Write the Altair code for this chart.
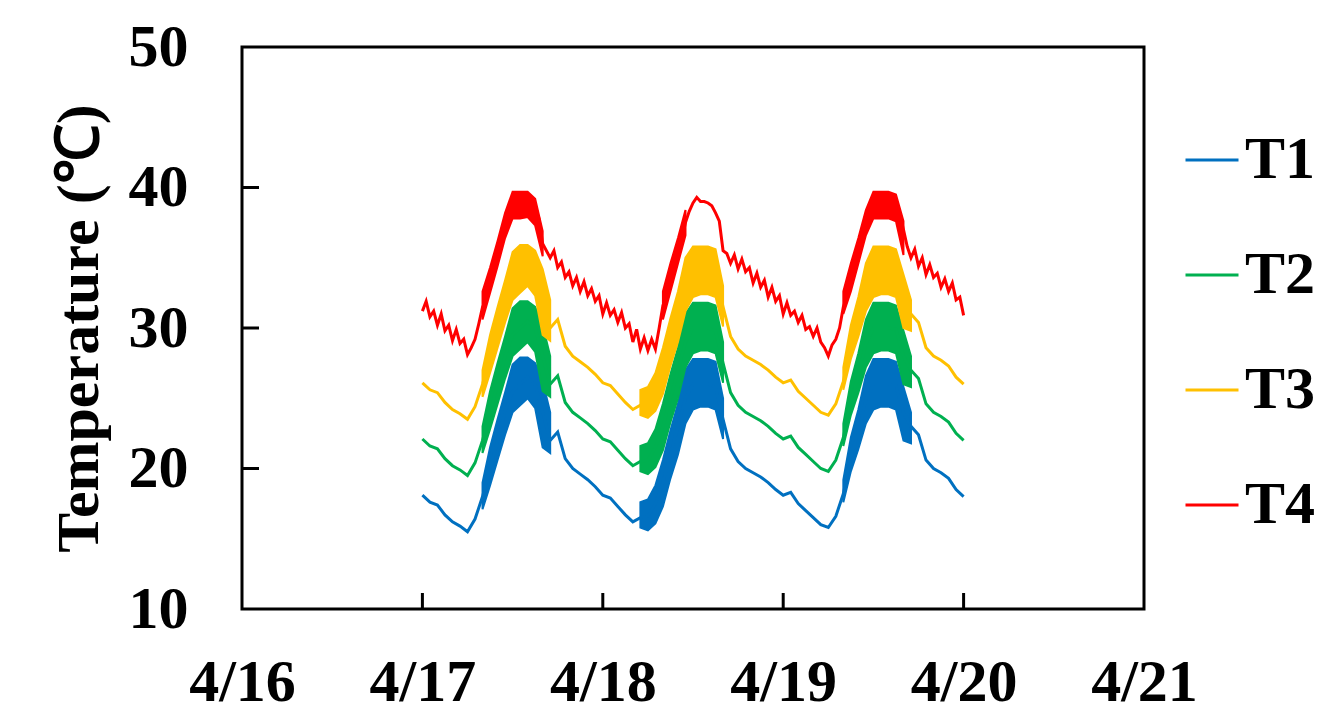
import altair as alt
import pandas as pd

SERIES = ["T1", "T2", "T3", "T4"]
COLORS = ["#0070C0", "#00B050", "#FFC000", "#FF0000"]
DAY_LABELS = ["4/16", "4/17", "4/18", "4/19", "4/20", "4/21"]
DAY_TICKS = [0, 24, 48, 72, 96, 120]          # hours since 4/16 00:00
INNER_X_TICKS = [24, 48, 72, 96]
Y_TICKS = [10, 20, 30, 40, 50]
INNER_Y_TICKS = [20, 30, 40]
START = 24                                    # data start: 4/17 00:00

# hourly readings (4/17 00:00 .. 4/20 00:00)
T1_LINE = [18.1, 17.6, 17.4, 16.7, 16.2, 15.9, 15.5, 16.4, 18.0, 20.0, 22.0, 24.0, 25.5, 26.0, 26.5, 26.0, 24.0, 22.0, 22.6, 20.7, 20.0, 19.6, 19.2, 18.7,
           18.1, 17.9, 17.3, 16.7, 16.2, 16.5, 16.6, 17.5, 19.0, 21.0, 23.0, 25.0, 26.0, 26.0, 26.0, 25.8, 23.5, 21.4, 20.5, 20.0, 19.7, 19.4, 19.0, 18.5,
           18.1, 18.3, 17.5, 17.0, 16.5, 16.0, 15.8, 16.6, 18.2, 20.8, 22.6, 24.9, 26.0, 26.0, 26.0, 25.9, 24.0, 23.0, 22.4, 20.6, 20.0, 19.7, 19.3, 18.5, 18.0]
T2_LINE = [22.1, 21.6, 21.4, 20.7, 20.2, 19.9, 19.5, 20.4, 22.0, 24.0, 26.0, 28.0, 29.5, 30.0, 30.5, 30.0, 28.0, 26.0, 26.6, 24.7, 24.0, 23.6, 23.2, 22.7,
           22.1, 21.9, 21.3, 20.7, 20.2, 20.5, 20.6, 21.5, 23.0, 25.0, 27.0, 29.0, 30.0, 30.0, 30.0, 29.8, 27.5, 25.4, 24.5, 24.0, 23.7, 23.4, 23.0, 22.5,
           22.1, 22.3, 21.5, 21.0, 20.5, 20.0, 19.8, 20.6, 22.2, 24.8, 26.6, 28.9, 30.0, 30.0, 30.0, 29.9, 28.0, 27.0, 26.4, 24.6, 24.0, 23.7, 23.3, 22.5, 22.0]
T3_LINE = [26.1, 25.6, 25.4, 24.7, 24.2, 23.9, 23.5, 24.4, 26.0, 28.0, 30.0, 32.0, 33.5, 34.0, 34.5, 34.0, 32.0, 30.0, 30.6, 28.7, 28.0, 27.6, 27.2, 26.7,
           26.1, 25.9, 25.3, 24.7, 24.2, 24.5, 24.6, 25.5, 27.0, 29.0, 31.0, 33.0, 34.0, 34.0, 34.0, 33.8, 31.5, 29.4, 28.5, 28.0, 27.7, 27.4, 27.0, 26.5,
           26.1, 26.3, 25.5, 25.0, 24.5, 24.0, 23.8, 24.6, 26.2, 28.8, 30.6, 32.9, 34.0, 34.0, 34.0, 33.9, 32.0, 31.0, 30.4, 28.6, 28.0, 27.7, 27.3, 26.5, 26.0]
# half-hourly readings for T4 (zig-zag)
T4_LINE = [31.2, 31.9, 30.8, 31.2, 30.2, 31.0, 29.8, 30.2, 29.1, 29.9, 28.9, 29.2, 28.1, 28.6, 29.2, 30.3,
           31.5, 32.0, 33.5, 34.0, 35.5, 36.0, 37.5, 38.0, 38.8, 38.8, 38.8, 38.8, 38.8, 38.8, 38.5, 37.8,
           36.0, 35.5, 35.0, 35.5, 34.3, 34.7, 33.6, 34.0, 33.0, 33.6, 32.6, 33.3, 32.3, 32.8, 31.9, 32.3,
           31.0, 31.8, 30.9, 31.3, 30.4, 31.1, 30.0, 30.3, 29.0, 29.9, 28.5, 29.3, 28.4, 29.2, 28.5, 30.0,
           31.6, 32.2, 33.5, 34.3, 35.5, 36.3, 37.5, 38.3, 38.9, 39.3, 39.0, 39.0, 38.9, 38.7, 38.2, 37.6,
           35.5, 35.3, 34.6, 35.2, 34.2, 34.9, 34.0, 34.3, 33.2, 33.9, 32.9, 33.4, 32.2, 32.9, 31.9, 32.3,
           31.0, 31.8, 30.9, 31.2, 30.4, 30.9, 29.9, 30.1, 29.4, 30.0, 29.0, 28.6, 28.0, 28.8, 29.2, 30.0,
           31.5, 32.3, 33.5, 34.3, 35.5, 36.3, 37.5, 38.3, 38.8, 38.8, 38.8, 38.8, 38.8, 38.8, 38.7, 38.2,
           37.0, 35.8, 35.0, 35.6, 34.4, 35.0, 33.8, 34.5, 33.6, 33.9, 32.9, 33.5, 32.6, 33.2, 32.0, 32.2,
           30.9]

# daytime oscillation bands (hour since 4/17 00:00, lower and upper envelope)
BAND_HOURS_T123 = [8, 9, 10, 11, 12, 13, 14, 15, 16, 17,
                   29, 30, 31, 32, 33, 34, 35, 36, 37, 38, 39, 40,
                   56, 57, 58, 59, 60, 61, 62, 63, 64, 65]
T1_LO = [17.1, 18.8, 20.6, 22.4, 24.0, 24.5, 25.0, 24.3, 21.5, 21.1,
         15.8, 15.6, 16.1, 17.3, 19.3, 21.0, 23.2, 24.2, 24.4, 24.4, 24.2, 22.1,
         17.6, 19.8, 21.4, 23.2, 24.2, 24.4, 24.4, 24.2, 22.0, 21.8]
T1_HI = [19.0, 21.5, 23.5, 25.4, 27.4, 27.9, 27.9, 27.5, 26.2, 24.0,
         17.6, 17.8, 18.8, 20.6, 22.7, 24.6, 27.0, 27.8, 27.8, 27.8, 27.6, 25.0,
         19.2, 22.2, 24.2, 26.6, 27.8, 27.8, 27.8, 27.6, 25.8, 24.0]
T2_LO = [21.1, 22.8, 24.6, 26.4, 28.0, 28.5, 29.0, 28.3, 25.5, 25.1,
         19.8, 19.6, 20.1, 21.3, 23.3, 25.0, 27.2, 28.2, 28.4, 28.4, 28.2, 26.1,
         21.6, 23.8, 25.4, 27.2, 28.2, 28.4, 28.4, 28.2, 26.0, 25.8]
T2_HI = [23.0, 25.5, 27.5, 29.4, 31.4, 31.9, 31.9, 31.5, 30.2, 28.0,
         21.6, 21.8, 22.8, 24.6, 26.7, 28.6, 31.0, 31.8, 31.8, 31.8, 31.6, 29.0,
         23.2, 26.2, 28.2, 30.6, 31.8, 31.8, 31.8, 31.6, 29.8, 28.0]
T3_LO = [25.1, 26.8, 28.6, 30.4, 32.0, 32.5, 33.0, 32.3, 29.5, 29.1,
         23.8, 23.6, 24.1, 25.3, 27.3, 29.0, 31.2, 32.2, 32.4, 32.4, 32.2, 30.1,
         25.6, 27.8, 29.4, 31.2, 32.2, 32.4, 32.4, 32.2, 30.0, 29.8]
T3_HI = [27.0, 29.5, 31.5, 33.4, 35.4, 35.9, 35.9, 35.5, 34.2, 32.0,
         25.6, 25.8, 26.8, 28.6, 30.7, 32.6, 35.0, 35.8, 35.8, 35.8, 35.6, 33.0,
         27.2, 30.2, 32.2, 34.6, 35.8, 35.8, 35.8, 35.6, 33.8, 32.0]
BAND_HOURS_T4 = [8, 9, 10, 11, 12, 13, 14, 15, 16,
                 32, 33, 34, 35,
                 56, 57, 58, 59, 60, 61, 62, 63, 64]
T4_LO = [30.6, 32.5, 34.4, 36.4, 37.8, 37.8, 37.9, 37.3, 35.1,
         30.6, 32.6, 34.6, 36.6,
         31.0, 32.6, 34.6, 36.6, 37.8, 37.8, 37.8, 37.6, 35.2]
T4_HI = [32.6, 34.3, 36.2, 38.2, 39.7, 39.7, 39.7, 39.2, 36.9,
         32.6, 34.6, 36.4, 38.4,
         32.6, 34.6, 36.4, 38.4, 39.7, 39.7, 39.7, 39.5, 37.6]

# ---- tables ----
line_rows = []
for name, vals, step in [("T1", T1_LINE, 1.0), ("T2", T2_LINE, 1.0),
                         ("T3", T3_LINE, 1.0), ("T4", T4_LINE, 0.5)]:
    for i, v in enumerate(vals):
        line_rows.append({"series": name, "x": START + i * step, "y": v})
lines_df = pd.DataFrame(line_rows)

band_rows = []
for name, hours, lo, hi in [("T1", BAND_HOURS_T123, T1_LO, T1_HI),
                            ("T2", BAND_HOURS_T123, T2_LO, T2_HI),
                            ("T3", BAND_HOURS_T123, T3_LO, T3_HI),
                            ("T4", BAND_HOURS_T4, T4_LO, T4_HI)]:
    seg = 0
    for i, h in enumerate(hours):
        if i > 0 and h - hours[i - 1] > 1:
            seg += 1
        band_rows.append({"series": name, "seg": f"{name}-{seg}",
                          "x": START + h, "lo": lo[i], "hi": hi[i]})
bands_df = pd.DataFrame(band_rows)

FONT = "Liberation Serif"
x_scale = alt.Scale(domain=[0, 120], nice=False, zero=False)
y_scale = alt.Scale(domain=[10, 50], nice=False, zero=False)
color_scale = alt.Scale(domain=SERIES, range=COLORS)
label_expr = "[" + ",".join(f"'{d}'" for d in DAY_LABELS) + "][round(datum.value/24)]"

x_axis = alt.Axis(values=DAY_TICKS, labelExpr=label_expr, ticks=False, domain=False,
                  grid=False, labelFont=FONT, labelFontWeight="bold", labelFontSize=60,
                  labelColor="black", labelPadding=44, labelFlush=False)
y_axis = alt.Axis(values=Y_TICKS, ticks=False, domain=False, grid=False,
                  labelFont=FONT, labelFontWeight="bold", labelFontSize=60,
                  labelColor="black", labelPadding=54,
                  title="Temperature (℃)", titleFont=FONT, titleFontWeight="bold",
                  titleFontSize=60, titleColor="black", titlePadding=18)

legend = alt.Legend(orient="none", legendX=940, legendY=83,
                    symbolType="stroke", symbolSize=2809,
                    symbolStrokeWidth=3, labelFont=FONT,
                    labelFontWeight="bold", labelFontSize=60,
                    labelColor="black", labelOffset=3,
                    rowPadding=55, padding=0)

bands = alt.Chart(bands_df).mark_area(opacity=1, strokeWidth=2).encode(
    x=alt.X("x:Q", scale=x_scale, axis=x_axis, title=None),
    y=alt.Y("lo:Q", scale=y_scale, axis=y_axis),
    y2="hi:Q",
    color=alt.Color("series:N", scale=color_scale, title=None, legend=legend),
    stroke=alt.Color("series:N", scale=color_scale, title=None, legend=legend),
    detail="seg:N",
)

lines = alt.Chart(lines_df).mark_line(strokeWidth=3).encode(
    x=alt.X("x:Q", scale=x_scale),
    y=alt.Y("y:Q", scale=y_scale),
    color=alt.Color("series:N", scale=color_scale, title=None, legend=legend),
    detail="series:N",
)

xticks = alt.Chart(pd.DataFrame({"x": INNER_X_TICKS})).mark_rule(
    color="black", strokeWidth=3).encode(
    x=alt.X("x:Q", scale=x_scale), y=alt.value(562), y2=alt.value(546))
yticks = alt.Chart(pd.DataFrame({"y": INNER_Y_TICKS})).mark_rule(
    color="black", strokeWidth=3).encode(
    y=alt.Y("y:Q", scale=y_scale), x=alt.value(0), x2=alt.value(17))

chart = alt.layer(bands, lines, xticks, yticks).properties(
    width=902, height=562,
    autosize=alt.AutoSizeParams(type="none"),
    padding={"left": 242, "top": 47, "right": 176, "bottom": 110},
).configure(background="white").configure_view(stroke="black", strokeWidth=3)

chart.save("out.html", embed_options={"renderer": "svg", "actions": False})
